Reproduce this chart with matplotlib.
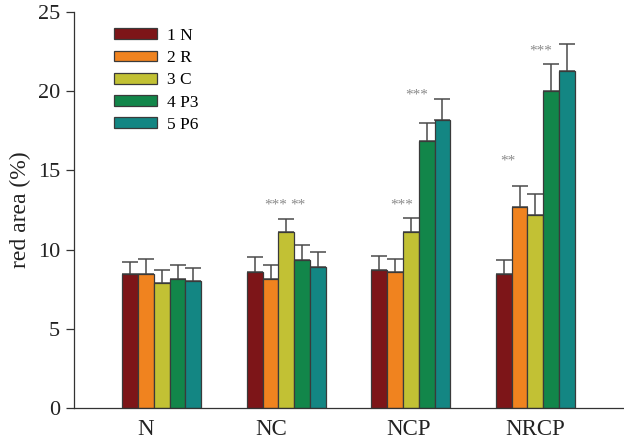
import numpy as np
import matplotlib.pyplot as plt

plt.rcParams['font.family'] = ['Liberation Serif', 'DejaVu Serif']

# Data
groups = ['N', 'NC', 'NCP', 'NRCP']
series = ['1 N', '2 R', '3 C', '4 P3', '5 P6']
colors = ['#7d1518', '#f0831f', '#c2c134', '#12864a', '#138683']

means = np.array([
    [8.44, 8.45, 7.87, 8.12, 8.02],     # N
    [8.60, 8.12, 11.09, 9.32, 8.90],    # NC
    [8.73, 8.59, 11.11, 16.83, 18.16],  # NCP
    [8.46, 12.69, 12.16, 19.99, 21.26], # NRCP
])
errors = np.array([
    [0.80, 0.95, 0.82, 0.91, 0.80],
    [0.93, 0.88, 0.86, 0.97, 0.93],
    [0.87, 0.84, 0.86, 1.18, 1.33],
    [0.88, 1.34, 1.37, 1.73, 1.72],
])

# significance marks: (group index, series index, text, y)
stars = [
    (1, 2, '***', 12.83),
    (1, 3, '**', 12.83),
    (2, 2, '***', 12.8),
    (2, 3, '***', 19.76),
    (3, 1, '**', 15.6),
    (3, 3, '***', 22.56),
]
star_dx = {(1, 2): -0.7, (1, 3): -0.25, (2, 2): -0.6, (2, 3): -0.65,
           (3, 1): -0.75, (3, 3): -0.65}

fig = plt.figure(figsize=(6.24, 4.41), dpi=100)
ax = fig.add_axes([0.1186, 0.0748, 0.879, 0.898])

w = 0.1268
x = np.arange(len(groups))
for j, name in enumerate(series):
    pos = x + (j - 2) * w
    ax.bar(pos, means[:, j], width=w, color=colors[j], edgecolor='#3a3a3a',
           linewidth=0.9, label=name, zorder=2)
    ax.errorbar(pos, means[:, j], yerr=[np.zeros(len(groups)), errors[:, j]],
                fmt='none', ecolor='#4a4a4a', elinewidth=1.1, capsize=6,
                capthick=1.1, zorder=1)

for g, s, txt, yv in stars:
    px = g + (s - 2) * w + star_dx[(g, s)] * w
    ax.text(px, yv, txt, ha='center', va='center', fontsize=11, color='#8a8a8a')

ax.set_xlim(-0.705, 3.70)
ax.set_ylim(0, 25)
ax.set_yticks([0, 5, 10, 15, 20, 25])
ax.tick_params(axis='y', labelsize=16, length=6, width=0.9, colors='#333333',
               labelcolor='#222222', pad=4)
ax.set_xticks([])
label_dx = [-0.13, -0.12, -0.015, 0.0]
for i, g in enumerate(groups):
    ax.text(i + label_dx[i], -1.70, g, ha='center', va='baseline', fontsize=16.5,
            color='#222222')

ax.set_ylabel('red area (%)', fontsize=17, color='#222222', labelpad=5)
for sp in ['top', 'right']:
    ax.spines[sp].set_visible(False)
for sp in ['left', 'bottom']:
    ax.spines[sp].set_linewidth(0.9)
    ax.spines[sp].set_color('#333333')

leg = ax.legend(loc='upper left', bbox_to_anchor=(0.073, 0.96), frameon=False,
                fontsize=12.5, handlelength=2.48, handleheight=0.58,
                labelspacing=0.36, handletextpad=0.55, borderaxespad=0.0,
                borderpad=0.0)

fig.savefig('out.png', dpi=100)
